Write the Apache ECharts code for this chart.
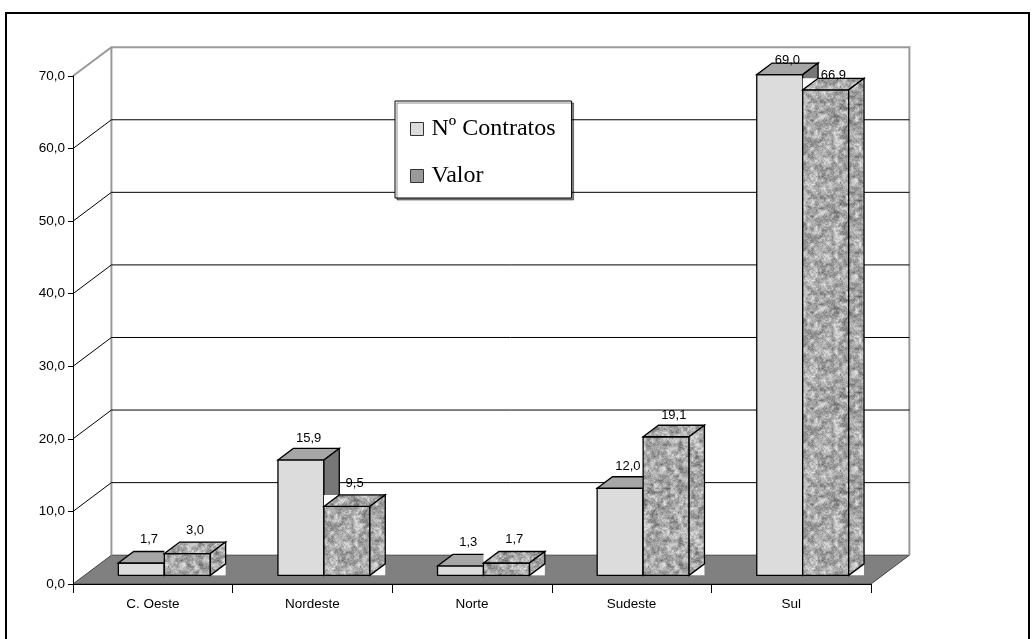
<!DOCTYPE html>
<html><head><meta charset="utf-8">
<script src="https://cdn.jsdelivr.net/npm/echarts@6/dist/echarts.min.js"></script>
<style>html,body{margin:0;padding:0;background:#fff}#c{width:1035px;height:639px}</style>
</head><body><div id="c"></div>
<script>
const categories = ['C. Oeste', 'Nordeste', 'Norte', 'Sudeste', 'Sul'];
const contratos = [1.7, 15.9, 1.3, 12.0, 69.0];
const valor = [3.0, 9.5, 1.7, 19.1, 66.9];
const yTicks = [0, 10, 20, 30, 40, 50, 60, 70];
const seriesNames = ['Nº Contratos', 'Valor'];

const fmt = v => Number(v).toFixed(1).replace('.', ',');

// deterministic grey "stone" texture (style only)
function makeTexture() {
  const N = 96;
  const c = document.createElement('canvas'); c.width = N; c.height = N;
  const ctx = c.getContext('2d'); const img = ctx.createImageData(N, N);
  const smooth = t => t * t * (3 - 2 * t);
  function vnoise(x, y, cs, seed) {
    const g = N / cs; const fx = x / cs, fy = y / cs;
    const i0 = Math.floor(fx), j0 = Math.floor(fy);
    const tx = smooth(fx - i0), ty = smooth(fy - j0);
    const hh = (i, j) => { i = ((i % g) + g) % g; j = ((j % g) + g) % g;
      const s = Math.sin(i * 127.1 + j * 311.7 + seed * 74.7) * 43758.5453; return s - Math.floor(s); };
    const a = hh(i0, j0), b = hh(i0 + 1, j0), c2 = hh(i0, j0 + 1), d = hh(i0 + 1, j0 + 1);
    return (a * (1 - tx) + b * tx) * (1 - ty) + (c2 * (1 - tx) + d * tx) * ty;
  }
  for (let y = 0; y < N; y++) for (let x = 0; x < N; x++) {
    const v = 0.45 * vnoise(x, y, 4, 1) + 0.35 * vnoise(x, y, 2, 2) + 0.2 * vnoise(x, y, 1, 3);
    const g = Math.max(90, Math.min(225, Math.round(170 + (v - 0.5) * 170)));
    const k = (y * N + x) * 4;
    img.data[k] = g; img.data[k + 1] = g; img.data[k + 2] = g; img.data[k + 3] = 255;
  }
  ctx.putImageData(img, 0, 0);
  return c;
}
const tex = makeTexture();
const texFill = { image: tex, repeat: 'repeat' };

const DX = 38.4, DY = -28.8, BF = 0.4;
const FONT = '13px "Liberation Sans", Arial, sans-serif';

function barRender(seriesIdx) {
  return function (params, api) {
    const i = api.value(0), v = api.value(1);
    const band = api.size([1, 0])[0];
    const c0 = api.coord([i, 0]), c1 = api.coord([i, v]);
    const bdx = DX * BF, bdy = DY * BF, ox = (DX - bdx) / 2, oy = (DY - bdy) / 2;
    const w = band * 0.288;
    const x = c0[0] + ox - (seriesIdx === 0 ? w : 0);
    const yb = c0[1] + oy, yt = c1[1] + oy;
    const textured = seriesIdx === 1;
    const frontFill = textured ? texFill : '#dcdcdc';
    const topFill = textured ? texFill : '#a6a6a6';
    const sideFill = textured ? texFill : '#777777';
    const st = { stroke: '#000', lineWidth: 1.3 };
    const children = [];
    if (textured) {
      children.push({ type: 'rect', shape: { x: x, y: yt + bdy, width: w + bdx, height: -bdy }, style: { fill: '#fff' } });
      children.push({ type: 'rect', shape: { x: x + w, y: yt + bdy, width: bdx, height: yb - yt - bdy }, style: { fill: '#fff' } });
    }
    children.push({ type: 'rect', shape: { x: x, y: yt, width: w, height: yb - yt }, style: Object.assign({ fill: frontFill }, st) });
    children.push({ type: 'polygon', shape: { points: [[x, yt], [x + bdx, yt + bdy], [x + w + bdx, yt + bdy], [x + w, yt]] }, style: Object.assign({ fill: topFill }, st) });
    children.push({ type: 'polygon', shape: { points: [[x + w, yt], [x + w + bdx, yt + bdy], [x + w + bdx, yb + bdy], [x + w, yb]] }, style: Object.assign({ fill: sideFill }, st) });
    children.push({ type: 'text', x: x + w / 2 + bdx / 2, y: yt - 24 + 0.14 * v,
      style: { text: fmt(v), fill: '#000', font: FONT, align: 'center', verticalAlign: 'middle', textAlign: 'center', textVerticalAlign: 'middle' } });
    return { type: 'group', children: children };
  };
}

function wallRender(params, api) {
  const cs = params.coordSys;
  const x0 = cs.x, x1 = cs.x + cs.width;
  const yTop = api.coord([0, yTicks[yTicks.length - 1]])[1];
  const yBot = api.coord([0, 0])[1];
  const grey = { stroke: '#999', lineWidth: 2, fill: 'none' };
  return { type: 'group', children: [
    { type: 'polygon', shape: { points: [[x0, yBot], [x0 + DX, yBot + DY], [x1 + DX, yBot + DY], [x1, yBot]] },
      style: { fill: '#808080', stroke: '#444', lineWidth: 1 } },
    { type: 'polyline', shape: { points: [[x0, yTop], [x0 + DX, yTop + DY], [x1 + DX, yTop + DY], [x1 + DX, yBot + DY]] }, style: grey },
    { type: 'line', shape: { x1: x0 + DX, y1: yTop + DY, x2: x0 + DX, y2: yBot + DY }, style: grey }
  ] };
}

function gridRender(params, api) {
  const cs = params.coordSys;
  const t = api.value(1);
  if (t === 0 || t === yTicks[yTicks.length - 1]) return { type: 'group', children: [] };
  const x0 = cs.x, x1 = cs.x + cs.width;
  const y = api.coord([0, t])[1];
  return { type: 'polyline', shape: { points: [[x0, y], [x0 + DX, y + DY], [x1 + DX, y + DY]] },
    style: { stroke: '#000', lineWidth: 1, fill: 'none' } };
}

const chart = echarts.init(document.getElementById('c'), null, { renderer: 'canvas' });
chart.setOption({
  animation: false,
  backgroundColor: '#fff',
  grid: { left: 73, right: 164, top: 76, bottom: 55, containLabel: false, outerBoundsMode: 'none' },
  xAxis: {
    type: 'category', data: categories, z: 5,
    axisLine: { show: true, lineStyle: { color: '#000', width: 1 } },
    axisTick: { show: true, length: 9, lineStyle: { color: '#000' } },
    axisLabel: { margin: 13, fontFamily: 'Liberation Sans', fontSize: 13.5, color: '#000' },
    splitLine: { show: false }
  },
  yAxis: {
    type: 'value', min: 0, max: 70, interval: 10, z: 5,
    axisLine: { show: true, lineStyle: { color: '#000', width: 1 } },
    axisTick: { show: true, length: 5, lineStyle: { color: '#000' } },
    axisLabel: { formatter: v => fmt(v), margin: 8, fontFamily: 'Liberation Sans', fontSize: 13.5, color: '#000' },
    splitLine: { show: false }
  },
  legend: {
    data: [
      { name: seriesNames[0], icon: 'rect', itemStyle: { color: '#dcdcdc', borderColor: '#333', borderWidth: 1 } },
      { name: seriesNames[1], icon: 'rect', itemStyle: { color: '#9a9a9a', borderColor: '#333', borderWidth: 1 } }
    ],
    orient: 'vertical', left: 395, top: 101,
    itemWidth: 13, itemHeight: 13, itemGap: 23,
    padding: [16, 16, 10, 15],
    backgroundColor: '#fff', borderColor: '#000', borderWidth: 1, borderRadius: 0,
    shadowColor: 'rgba(0,0,0,0.45)', shadowOffsetX: 2, shadowOffsetY: 2, shadowBlur: 0,
    textStyle: { fontFamily: '"Liberation Serif", "Times New Roman", serif', fontSize: 24, color: '#000', padding: [0, 0, 0, 3] }
  },
  graphic: [
    { type: 'rect', silent: true, z: 100, shape: { x: 6, y: 13, width: 1023, height: 700 }, style: { fill: 'none', stroke: '#000', lineWidth: 2 } }
  ],
  series: [
    { type: 'custom', name: '_wall', renderItem: wallRender, data: [[0, 0]], encode: { x: 0, y: 1 }, silent: true, z: 1, clip: false },
    { type: 'custom', name: '_grid', renderItem: gridRender, data: yTicks.map(t => [0, t]), encode: { x: 0, y: 1 }, silent: true, z: 1, clip: false },
    { type: 'custom', name: seriesNames[0], renderItem: barRender(0), data: categories.map((c, i) => [i, contratos[i]]),
      encode: { x: 0, y: 1 }, itemStyle: { color: '#dcdcdc' }, z: 2, clip: false },
    { type: 'custom', name: seriesNames[1], renderItem: barRender(1), data: categories.map((c, i) => [i, valor[i]]),
      encode: { x: 0, y: 1 }, itemStyle: { color: '#9a9a9a' }, z: 2, clip: false }
  ]
});
</script></body></html>
